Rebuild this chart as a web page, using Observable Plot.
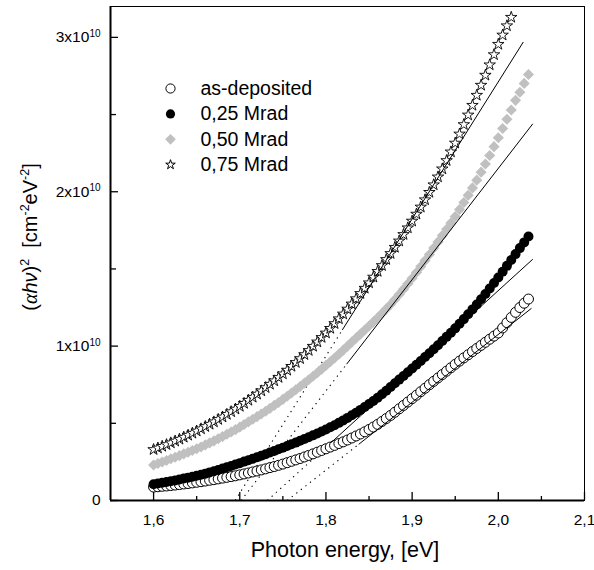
<!DOCTYPE html>
<html><head><meta charset="utf-8">
<script src="https://cdn.jsdelivr.net/npm/d3@7"></script>
<script src="https://cdn.jsdelivr.net/npm/@observablehq/plot@0.6"></script>
<style>
body{margin:0;background:#fff;}
#chart{width:594px;height:570px;}
</style></head><body><div id="chart"></div>
<script>
const energy = [
1.600,1.605,1.610,1.615,1.620,1.625,1.630,1.635,1.640,1.645,
1.650,1.655,1.660,1.665,1.670,1.675,1.680,1.685,1.690,1.695,
1.700,1.705,1.710,1.715,1.720,1.725,1.730,1.735,1.740,1.745,
1.750,1.755,1.760,1.765,1.770,1.775,1.780,1.785,1.790,1.795,
1.800,1.805,1.810,1.815,1.820,1.825,1.830,1.835,1.840,1.845,
1.850,1.855,1.860,1.865,1.870,1.875,1.880,1.885,1.890,1.895,
1.900,1.905,1.910,1.915,1.920,1.925,1.930,1.935,1.940,1.945,
1.950,1.955,1.960,1.965,1.970,1.975,1.980,1.985,1.990,1.995,
2.000,2.005,2.010,2.015,2.020,2.025,2.030,2.035];

// (alpha h nu)^2 in units of 1e10 cm^-2 eV^-2
const asDeposited = [
0.087,0.089,0.092,0.094,0.097,0.100,0.103,0.107,0.110,0.114,
0.118,0.122,0.126,0.131,0.135,0.140,0.145,0.150,0.155,0.160,
0.166,0.172,0.178,0.185,0.191,0.198,0.205,0.213,0.220,0.228,
0.236,0.245,0.254,0.263,0.272,0.282,0.292,0.302,0.313,0.324,
0.335,0.346,0.357,0.369,0.380,0.392,0.405,0.418,0.431,0.445,
0.460,0.476,0.493,0.512,0.531,0.551,0.572,0.594,0.616,0.638,
0.660,0.682,0.705,0.727,0.750,0.772,0.794,0.816,0.838,0.860,
0.882,0.903,0.924,0.944,0.965,0.985,1.005,1.025,1.045,1.065,
1.085,1.118,1.152,1.186,1.219,1.250,1.278,1.305];

const mrad025 = [
0.105,0.110,0.115,0.120,0.125,0.130,0.136,0.142,0.148,0.154,
0.160,0.167,0.174,0.182,0.190,0.198,0.207,0.215,0.224,0.233,
0.242,0.252,0.261,0.271,0.280,0.290,0.300,0.311,0.321,0.332,
0.342,0.353,0.364,0.375,0.387,0.398,0.410,0.422,0.434,0.447,
0.460,0.474,0.488,0.503,0.519,0.535,0.552,0.569,0.587,0.606,
0.625,0.645,0.666,0.688,0.711,0.735,0.759,0.783,0.807,0.831,
0.855,0.879,0.904,0.929,0.954,0.980,1.006,1.033,1.060,1.087,
1.115,1.145,1.175,1.206,1.238,1.270,1.304,1.338,1.373,1.409,
1.445,1.482,1.520,1.558,1.596,1.635,1.672,1.710];

const mrad050 = [
0.230,0.240,0.249,0.259,0.270,0.280,0.291,0.302,0.313,0.324,
0.335,0.347,0.360,0.373,0.386,0.400,0.414,0.429,0.444,0.459,
0.475,0.492,0.509,0.526,0.543,0.560,0.578,0.597,0.616,0.635,
0.655,0.675,0.696,0.717,0.738,0.760,0.782,0.805,0.828,0.851,
0.875,0.899,0.923,0.948,0.974,1.000,1.026,1.052,1.078,1.104,
1.130,1.157,1.184,1.212,1.241,1.270,1.302,1.335,1.369,1.404,
1.440,1.477,1.515,1.554,1.594,1.635,1.675,1.716,1.757,1.798,
1.840,1.885,1.930,1.977,2.025,2.075,2.127,2.180,2.235,2.292,
2.350,2.410,2.470,2.530,2.592,2.645,2.702,2.760];

const mrad075 = [
0.330,0.340,0.351,0.362,0.373,0.385,0.397,0.410,0.423,0.436,
0.450,0.464,0.479,0.494,0.509,0.525,0.541,0.558,0.575,0.592,
0.610,0.629,0.649,0.669,0.689,0.710,0.731,0.753,0.775,0.797,
0.820,0.844,0.869,0.894,0.919,0.945,0.972,0.999,1.027,1.056,
1.085,1.115,1.146,1.177,1.208,1.240,1.273,1.307,1.341,1.375,
1.410,1.447,1.484,1.522,1.561,1.600,1.640,1.681,1.723,1.766,
1.810,1.855,1.901,1.948,1.996,2.045,2.096,2.148,2.202,2.258,
2.315,2.374,2.435,2.497,2.560,2.625,2.690,2.755,2.822,2.888,
2.955,3.015,3.075,3.130];

const seriesNames = ["as-deposited", "0,25 Mrad", "0,50 Mrad", "0,75 Mrad"];

// linear fits: x-intercept, lower end and upper end of the solid part
const fitIntercept = [1.755, 1.732, 1.7015, 1.6946];
const fitLowE = [1.838, 1.806, 1.824, 1.819];
const fitLowV = [0.364, 0.375, 0.883, 1.105];
const fitHighE = [2.0385, 2.040, 2.040, 2.029];
const fitHighV = [1.245, 1.563, 2.44, 2.97];

const xDomain = [1.55, 2.1];
const yDomain = [0, 3.2];
const xTicks = [1.6, 1.7, 1.8, 1.9, 2.0, 2.1];
const xMinorTicks = [1.65, 1.75, 1.85, 1.95, 2.05];
const yTicks = [0, 1, 2, 3];
const yMinorTicks = [0.5, 1.5, 2.5];

const rows = vals => vals.map((v, i) => ({E: energy[i], v}));
const fits = seriesNames.map((s, i) => ({s, e0: fitIntercept[i], le: fitLowE[i], lv: fitLowV[i], he: fitHighE[i], hv: fitHighV[i]}));

const legendStyles = [
  {symbol: "circle", r: 4.6, fill: "white", stroke: "black"},
  {symbol: "circle", r: 4.6, fill: "black", stroke: "none"},
  {symbol: "diamond2", r: 4.8, fill: "#c0c0c0", stroke: "none"},
  {symbol: "star", r: 3.0, fill: "white", stroke: "black"}
];

const legendMarks = seriesNames.flatMap((name, i) => [
  Plot.dot([name], {frameAnchor: "top-left", dx: 60, dy: 82 + i * 25.4, strokeWidth: 1, ...legendStyles[i]}),
  Plot.text([name], {frameAnchor: "top-left", dx: 90, dy: 82 + i * 25.4, text: d => d, textAnchor: "start", lineAnchor: "middle", fontSize: 19.5, fill: "black"})
]);

const plot = Plot.plot({
  width: 594, height: 570,
  marginLeft: 110, marginRight: 10, marginTop: 6, marginBottom: 70,
  x: {domain: xDomain, label: null},
  y: {domain: yDomain, label: null},
  style: {fontFamily: "'Liberation Sans', Arial, sans-serif", fontSize: "15px", color: "black", background: "white", overflow: "visible"},
  marks: [
    Plot.link(fits, {x1: "e0", y1: 0, x2: "le", y2: "lv", stroke: "black", strokeWidth: 1.1, strokeDasharray: "1.3,4.5"}),
    Plot.dot(rows(asDeposited), {x: "E", y: "v", r: 5, fill: "white", stroke: "black", strokeWidth: 1}),
    Plot.dot(rows(mrad025), {x: "E", y: "v", r: 5, fill: "black"}),
    Plot.dot(rows(mrad050), {x: "E", y: "v", symbol: "diamond2", r: 5, fill: "#c0c0c0"}),
    Plot.dot(rows(mrad075), {x: "E", y: "v", symbol: "star", r: 3.6, fill: "white", stroke: "black", strokeWidth: 0.9}),
    Plot.link(fits, {x1: "le", y1: "lv", x2: "he", y2: "hv", stroke: "black", strokeWidth: 1}),
    Plot.frame({stroke: "black", strokeWidth: 1}),
    Plot.ruleX([xDomain[0]], {stroke: "black", strokeWidth: 2}),
    Plot.ruleY([yDomain[0]], {stroke: "black", strokeWidth: 2}),
    Plot.axisX(xTicks, {tickSize: -8, tickPadding: 21, strokeWidth: 1.3, tickFormat: d => d.toFixed(1).replace(".", ","), fontSize: 15.5, label: null}),
    Plot.axisX(xMinorTicks, {tickSize: -4, strokeWidth: 1.3, tickFormat: () => "", label: null}),
    Plot.axisY(yTicks, {tickSize: -8, tickPadding: 18, strokeWidth: 1.3, tickFormat: d => d === 0 ? "0" : `${d}x10`, fontSize: 15.5, label: null}),
    Plot.axisY(yMinorTicks, {tickSize: -6, strokeWidth: 1.3, tickFormat: () => "", label: null}),
    ...legendMarks
  ]
});

document.getElementById("chart").appendChild(plot);

const svg = d3.select(plot);
// superscript exponents on y tick labels
svg.selectAll('g[aria-label="y-axis tick label"] text').each(function() {
  const t = d3.select(this);
  const s = t.text();
  if (s !== "" && s !== "0") {
    t.append("tspan").attr("dy", "-0.55em").attr("font-size", 10).text("10");
  }
});

const xs = plot.scale("x");
const xCenter = (xs.range[0] + xs.range[1]) / 2;
svg.append("text")
  .attr("x", xCenter - 2).attr("y", 557)
  .attr("text-anchor", "middle")
  .attr("font-size", 21.5)
  .attr("fill", "black")
  .text("Photon energy, [eV]");

const yt = svg.append("text")
  .attr("transform", "translate(37,237) rotate(-90)")
  .attr("text-anchor", "middle")
  .attr("font-size", 20)
  .attr("fill", "black");
yt.append("tspan").text("(");
yt.append("tspan").attr("font-family", "'Liberation Serif', serif").attr("font-style", "italic").text("α");
yt.append("tspan").attr("font-style", "italic").text("hν");
yt.append("tspan").text(")");
yt.append("tspan").attr("dy", -8).attr("font-size", 12.5).text("2");
yt.append("tspan").attr("dy", 8).text("\u00a0\u00a0[cm");
yt.append("tspan").attr("dy", -8).attr("font-size", 12.5).text("-2");
yt.append("tspan").attr("dy", 8).text("eV");
yt.append("tspan").attr("dy", -8).attr("font-size", 12.5).text("-2");
yt.append("tspan").attr("dy", 8).text("]");
</script></body></html>
